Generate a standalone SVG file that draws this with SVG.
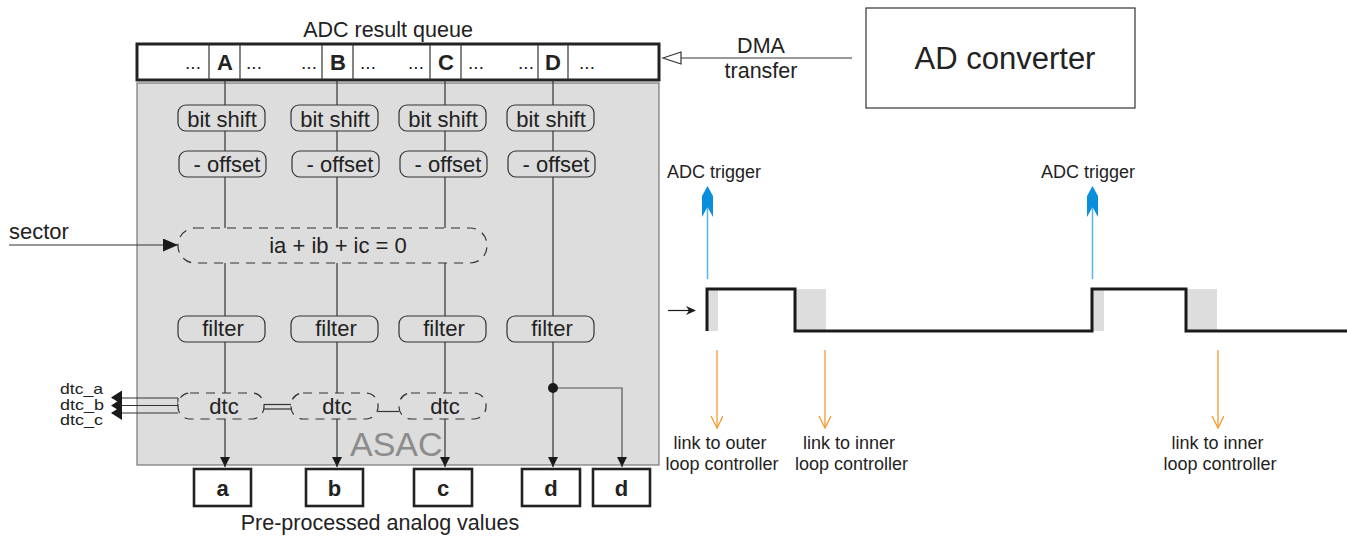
<svg xmlns="http://www.w3.org/2000/svg" width="1347" height="538" viewBox="0 0 1347 538">
<defs>
<style>
text{font-family:"Liberation Sans",Arial,sans-serif;fill:#222}
.t22{font-size:22px}
.t21{font-size:21.5px}
.t18{font-size:18px}
.bold{font-weight:bold}
.mid{text-anchor:middle}
.blk{fill:#dddddd;stroke:#333;stroke-width:1.2}
.dash{fill:#dddddd;stroke:#333;stroke-width:1.2;stroke-dasharray:9 7}
.out{fill:#fff;stroke:#222;stroke-width:2.6}
.ln{stroke:#333;stroke-width:1.2;fill:none}
.wave{stroke:#1a1a1a;stroke-width:3;fill:none}
.org{stroke:#f59a30;stroke-width:1.3;fill:none}
.blue{stroke:#5ab0ee;stroke-width:1.5;fill:none}
</style>
<marker id="ah" markerUnits="userSpaceOnUse" markerWidth="11" markerHeight="11" refX="10" refY="5" orient="auto">
<path d="M0,0 L10,5 L0,10 z" fill="#1a1a1a"/>
</marker>
<marker id="ahs" markerUnits="userSpaceOnUse" markerWidth="16" markerHeight="14" refX="15" refY="6.5" orient="auto">
<path d="M0,0 L15,6.5 L0,13 z" fill="#1a1a1a"/>
</marker>
<marker id="ao" markerUnits="userSpaceOnUse" markerWidth="14" markerHeight="14" refX="12" refY="6" orient="auto">
<path d="M0,0 L12,6 L0,12" fill="none" stroke="#f59a30" stroke-width="1.3"/>
</marker>
</defs>

<!-- ASAC background -->
<g id="asac">
<rect x="137" y="83" width="522" height="382" fill="#dddddd" stroke="#777" stroke-width="1.2"/>
<text x="350" y="456" style="font-size:34px;fill:#8c8c8c">ASAC</text>
</g>

<!-- queue -->
<g id="queue">
<text x="388" y="37" class="t21 mid">ADC result queue</text>
<rect x="137" y="44" width="522" height="36" fill="#fff" stroke="#222" stroke-width="3"/>
<g class="ln">
<line x1="209" y1="44" x2="209" y2="80"/><line x1="240" y1="44" x2="240" y2="80"/>
<line x1="322" y1="44" x2="322" y2="80"/><line x1="353" y1="44" x2="353" y2="80"/>
<line x1="430" y1="44" x2="430" y2="80"/><line x1="461" y1="44" x2="461" y2="80"/>
<line x1="538" y1="44" x2="538" y2="80"/><line x1="568" y1="44" x2="568" y2="80"/>
</g>
<g class="t22 bold mid">
<text x="225" y="70">A</text><text x="338" y="70">B</text><text x="446" y="70">C</text><text x="553" y="70">D</text>
</g>
<g style="font-size:19px" class="mid">
<text x="193" y="69">...</text><text x="254" y="69">...</text>
<text x="309" y="69">...</text><text x="368" y="69">...</text>
<text x="416" y="69">...</text><text x="476" y="69">...</text>
<text x="526" y="69">...</text><text x="587" y="69">...</text>
</g>
</g>

<!-- connectors -->
<g id="connectors">
<line class="ln" x1="225" y1="80" x2="225" y2="467" marker-end="url(#ah)"/>
<line class="ln" x1="337" y1="80" x2="337" y2="467" marker-end="url(#ah)"/>
<line class="ln" x1="445" y1="80" x2="445" y2="467" marker-end="url(#ah)"/>
<line class="ln" x1="553" y1="80" x2="553" y2="467" marker-end="url(#ah)"/>
<polyline points="553,388 622,388 622,467" fill="none" stroke="#555" stroke-width="1.2" marker-end="url(#ah)"/>
<circle cx="553" cy="388" r="5" fill="#1a1a1a"/>
<line class="ln" x1="9" y1="245" x2="178" y2="245" marker-end="url(#ahs)"/>
<!-- dtc outputs -->
<g class="ln">
<line x1="112" y1="398" x2="178" y2="398"/>
<line x1="112" y1="405.5" x2="178" y2="405.5"/>
<line x1="112" y1="413" x2="178" y2="413"/>
<line x1="178" y1="398" x2="178" y2="405.5"/>
<line x1="264" y1="404.5" x2="291" y2="404.5"/>
<line x1="264" y1="409" x2="291" y2="409"/>
<line x1="378" y1="411.5" x2="399" y2="411.5"/>
</g>
<g fill="#1a1a1a">
<path d="M111,397.5 L122,390.5 L122,404.5 z"/>
<path d="M111,405.5 L122,398.5 L122,412.5 z"/>
<path d="M111,413 L122,406 L122,420 z"/>
</g>
<!-- DMA -->
<line class="ln" x1="681" y1="58" x2="852" y2="58"/>
<path d="M663,58 L681,52 L681,64 z" fill="#fff" stroke="#333" stroke-width="1.2"/>
</g>

<!-- processing blocks -->
<g id="bitshift">
<rect class="blk" x="178" y="105" width="87" height="26" rx="8"/>
<rect class="blk" x="291" y="105" width="87" height="26" rx="8"/>
<rect class="blk" x="399" y="105" width="87" height="26" rx="8"/>
<rect class="blk" x="507" y="105" width="87" height="26" rx="8"/>
<g class="t22 mid">
<text x="222" y="127">bit shift</text><text x="335" y="127">bit shift</text>
<text x="443" y="127">bit shift</text><text x="551" y="127">bit shift</text>
</g>
</g>
<g id="offset">
<rect class="blk" x="179" y="151" width="87" height="26" rx="8"/>
<rect class="blk" x="292" y="151" width="87" height="26" rx="8"/>
<rect class="blk" x="400" y="151" width="87" height="26" rx="8"/>
<rect class="blk" x="508" y="151" width="87" height="26" rx="8"/>
<g class="t22 mid">
<text x="227" y="172">- offset</text><text x="340" y="172">- offset</text>
<text x="448" y="172">- offset</text><text x="556" y="172">- offset</text>
</g>
</g>
<g id="sector">
<text x="9" y="239" class="t22">sector</text>
<rect class="dash" x="178" y="228" width="309" height="35" rx="17"/>
<text x="338" y="253" class="t22 mid">ia + ib + ic = 0</text>
</g>
<g id="filter">
<rect class="blk" x="178" y="316" width="87" height="26" rx="8"/>
<rect class="blk" x="291" y="316" width="87" height="26" rx="8"/>
<rect class="blk" x="399" y="316" width="87" height="26" rx="8"/>
<rect class="blk" x="507" y="316" width="87" height="26" rx="8"/>
<g class="t22 mid">
<text x="223" y="336">filter</text><text x="336" y="336">filter</text>
<text x="444" y="336">filter</text><text x="552" y="336">filter</text>
</g>
</g>
<g id="dtc">
<rect class="dash" x="178" y="393" width="86" height="26" rx="12"/>
<rect class="dash" x="291" y="393" width="87" height="26" rx="12"/>
<rect class="dash" x="399" y="393" width="87" height="26" rx="12"/>
<g class="t22 mid">
<text x="224" y="414">dtc</text><text x="337" y="414">dtc</text><text x="445" y="414">dtc</text>
</g>
<g style="font-size:14.5px">
<text x="60" y="394" textLength="43" lengthAdjust="spacingAndGlyphs">dtc_a</text>
<text x="60" y="409.5" textLength="44" lengthAdjust="spacingAndGlyphs">dtc_b</text>
<text x="60" y="425" textLength="43" lengthAdjust="spacingAndGlyphs">dtc_c</text>
</g>
</g>

<!-- outputs -->
<g id="outputs">
<rect class="out" x="194" y="469" width="57" height="37"/>
<rect class="out" x="306" y="469" width="57" height="37"/>
<rect class="out" x="414" y="469" width="58" height="37"/>
<rect class="out" x="522" y="469" width="58" height="37"/>
<rect class="out" x="593" y="469" width="57" height="37"/>
<g class="t22 bold mid">
<text x="222.5" y="496">a</text><text x="334.5" y="496">b</text><text x="443" y="496">c</text>
<text x="551" y="496">d</text><text x="621.5" y="496">d</text>
</g>
<text x="380" y="530" class="t21 mid">Pre-processed analog values</text>
</g>

<!-- AD converter -->
<g id="adc">
<rect x="866" y="8" width="269" height="100" fill="#fff" stroke="#333" stroke-width="1.2"/>
<text x="1005" y="69" class="mid" style="font-size:31px">AD converter</text>
<text x="761" y="53" class="t21 mid">DMA</text>
<text x="761" y="78" class="t21 mid">transfer</text>
</g>

<!-- timing -->
<g id="timing">
<rect x="707" y="289" width="11" height="42" fill="#dddddd"/>
<rect x="795" y="289" width="31" height="42" fill="#dddddd"/>
<rect x="1092" y="289" width="12" height="42" fill="#dddddd"/>
<rect x="1186" y="289" width="31" height="42" fill="#dddddd"/>
<polyline class="wave" points="707,331 707,289 795,289 795,331 1092,331 1092,289 1186,289 1186,331 1347,331"/>
<line x1="668" y1="310.5" x2="694" y2="310.5" stroke="#1a1a1a" stroke-width="1.2"/>
<path d="M696,310.5 L686,306 L689,310.5 L686,315 z" fill="#1a1a1a"/>
<line class="blue" x1="707.5" y1="279" x2="707.5" y2="205"/>
<path d="M707.5,186 L713,196 L713,217 L707.5,207 L702,217 L702,196 z" fill="#0a8fdc"/>
<line class="blue" x1="1092.5" y1="279" x2="1092.5" y2="205"/>
<path d="M1092.5,186 L1098,196 L1098,217 L1092.5,207 L1087,217 L1087,196 z" fill="#0a8fdc"/>
<text x="714" y="178" class="t18 mid">ADC trigger</text>
<text x="1088" y="178" class="t18 mid">ADC trigger</text>
<line class="org" x1="717" y1="350" x2="717" y2="428" marker-end="url(#ao)"/>
<line class="org" x1="825" y1="350" x2="825" y2="428" marker-end="url(#ao)"/>
<line class="org" x1="1218" y1="350" x2="1218" y2="428" marker-end="url(#ao)"/>
<g class="t18 mid">
<text x="720" y="449">link to outer</text><text x="722" y="470">loop controller</text>
<text x="849" y="449">link to inner</text><text x="851.5" y="470">loop controller</text>
<text x="1217.5" y="449">link to inner</text><text x="1220" y="470">loop controller</text>
</g>
</g>
</svg>
